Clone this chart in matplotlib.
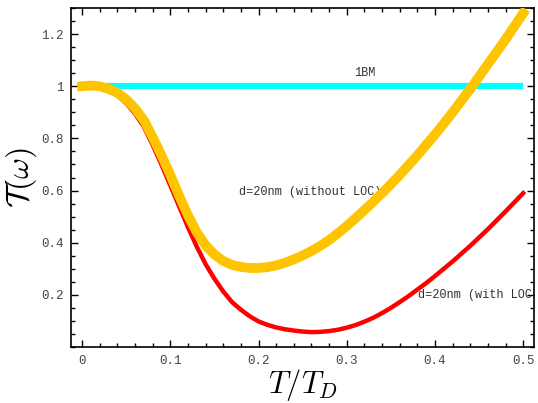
import matplotlib
matplotlib.use('Agg')
import matplotlib.pyplot as plt
from matplotlib.ticker import MultipleLocator, FixedLocator

# data (T/T_D step 0.01)
t_vals = [round(0.01 * i, 2) for i in range(51)]
without_loc = [1.0, 1.003, 1.0, 0.99, 0.975, 0.95, 0.915, 0.87, 0.805, 0.735,
               0.66, 0.58, 0.505, 0.44, 0.39, 0.355, 0.33, 0.315, 0.307, 0.303,
               0.303, 0.306, 0.313, 0.323, 0.336, 0.351, 0.368, 0.388, 0.41, 0.436,
               0.464, 0.494, 0.525, 0.557, 0.59, 0.624, 0.66, 0.697, 0.735, 0.775,
               0.815, 0.857, 0.90, 0.945, 0.99, 1.037, 1.085, 1.132, 1.18, 1.23,
               1.28]
with_loc = [1.0, 1.003, 1.0, 0.985, 0.965, 0.935, 0.895, 0.845, 0.775, 0.70,
            0.62, 0.54, 0.46, 0.385, 0.318, 0.262, 0.213, 0.172, 0.143, 0.118,
            0.098, 0.085, 0.075, 0.068, 0.063, 0.059, 0.057, 0.058, 0.061, 0.066,
            0.074, 0.084, 0.097, 0.112, 0.13, 0.15, 0.172, 0.195, 0.22, 0.245,
            0.272, 0.30, 0.328, 0.358, 0.388, 0.42, 0.452, 0.486, 0.52, 0.555,
            0.59]
bm_x = [0, 0.5]
bm_y = [1, 1]

x_ticks = [0, 0.1, 0.2, 0.3, 0.4, 0.5]
x_labels = ['0', '0.1', '0.2', '0.3', '0.4', '0.5']
y_ticks = [0.2, 0.4, 0.6, 0.8, 1.0, 1.2]
y_labels = ['0.2', '0.4', '0.6', '0.8', '1', '1.2']

plt.rcParams['mathtext.fontset'] = 'cm'

fig = plt.figure(figsize=(5.38, 4.03), dpi=100)
ax = fig.add_axes([0.132, 0.139, 0.861, 0.841])

ax.plot(bm_x, bm_y, color='#00ffff', lw=4.5, solid_capstyle='butt', zorder=2)
ax.plot(t_vals, with_loc, color='#ff0000', lw=3.2, zorder=3)
ax.plot(t_vals, without_loc, color='#ffc400', lw=7, zorder=4)

mono = 'Liberation Mono'
ax.text(0.308, 1.038, '1BM', family=mono, fontsize=8.6, color='#333333')
ax.text(0.178, 0.595, 'd=20nm (without LOC)', family=mono, fontsize=8.6,
        color='#333333', va='center')
ax.text(0.381, 0.198, 'd=20nm (with LOC)', family=mono, fontsize=8.6,
        color='#333333', va='center', clip_on=True)

ax.set_xlim(-0.0125, 0.5125)
ax.set_ylim(0, 1.3)
ax.xaxis.set_major_locator(FixedLocator(x_ticks))
ax.set_xticklabels(x_labels)
ax.yaxis.set_major_locator(FixedLocator(y_ticks))
ax.set_yticklabels(y_labels)
ax.xaxis.set_minor_locator(MultipleLocator(0.02))
ax.yaxis.set_minor_locator(MultipleLocator(0.05))
ax.tick_params(which='both', direction='in', top=True, right=True,
               color='black', width=1)
ax.tick_params(which='major', length=5, labelsize=9, labelcolor='#444444')
ax.tick_params(axis='x', which='major', pad=6)
ax.tick_params(axis='y', which='major', pad=5)
ax.tick_params(which='minor', length=3)
for lab in ax.get_xticklabels() + ax.get_yticklabels():
    lab.set_family(mono)
for sp in ax.spines.values():
    sp.set_linewidth(1.2)

ax.set_xlabel(r'$T/T_D$', fontsize=22)
ax.xaxis.set_label_coords(0.5, -0.06)
ax.set_ylabel(r'$\mathcal{T}(\omega)$', fontsize=23)
ax.yaxis.set_label_coords(-0.07, 0.5)

fig.savefig('out.png', dpi=100)
